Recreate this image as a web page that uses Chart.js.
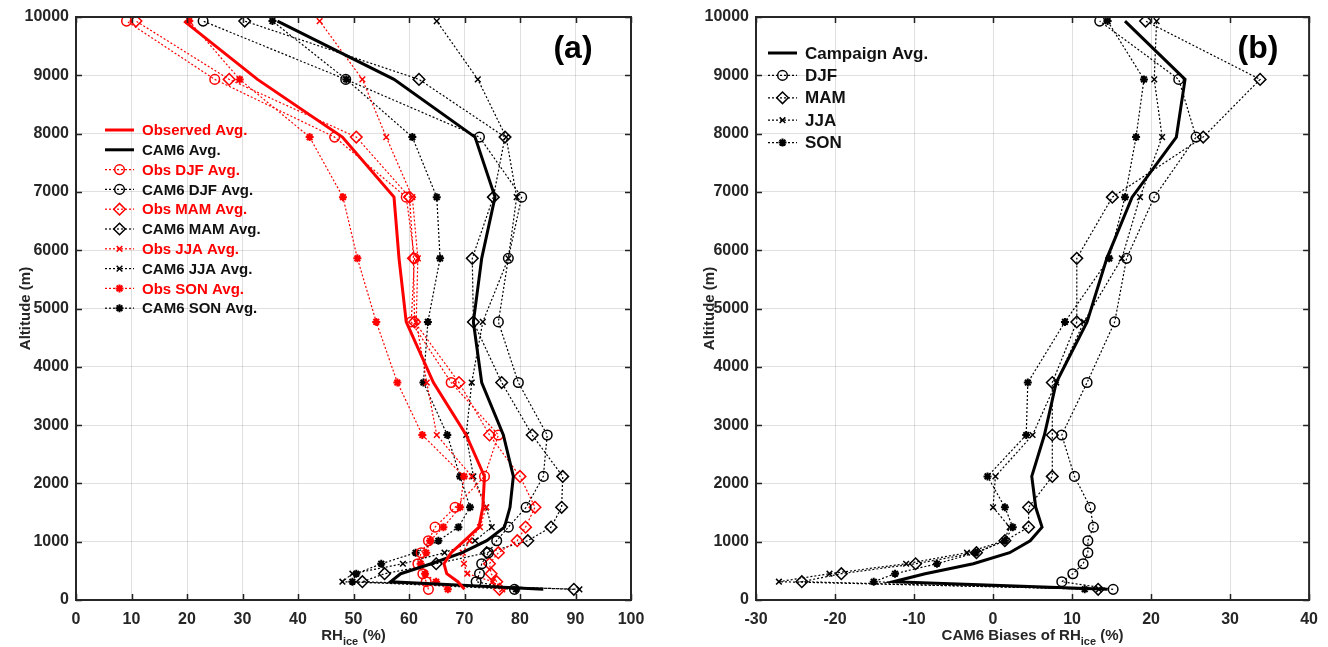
<!DOCTYPE html>
<html><head><meta charset="utf-8">
<script src="https://cdn.jsdelivr.net/npm/chart.js@4/dist/chart.umd.min.js"></script>
<style>body{margin:0;background:#fff;width:1328px;height:647px;overflow:hidden}canvas{position:absolute;top:0}</style>
</head><body>
<canvas id="ca" width="664" height="647" style="left:0"></canvas>
<canvas id="cb" width="664" height="647" style="left:664px"></canvas>
<script>
// altitude levels (m), bottom -> top
const altitudes = [183, 314, 451, 622, 811, 1017, 1250, 1590, 2120, 2830, 3730, 4770, 5860, 6910, 7940, 8930, 9930];

// panel (a): RH_ice (%)
const obsAvg  = [70.0, 68.8, 66.8, 66.3, 67.6, 70.0, 72.6, 73.3, 73.6, 70.3, 64.4, 59.5, 58.2, 57.3, 48.0, 32.7, 19.5];
const camAvg  = [84.2, 56.7, 58.5, 64.0, 69.6, 74.0, 77.2, 78.2, 78.8, 77.0, 73.1, 71.6, 73.1, 75.5, 71.9, 57.3, 36.3];
const obsDJF  = [63.5, 63.1, 62.5, 61.6, 62.2, 63.5, 64.7, 68.3, 73.6, 76.1, 67.6, 60.4, 61.0, 59.5, 46.6, 25.0, 9.1];
const camDJF  = [79.0, 72.1, 72.7, 73.1, 74.3, 75.8, 77.9, 81.1, 84.2, 84.9, 79.7, 76.1, 77.9, 80.3, 72.7, 48.6, 22.9];
const obsMAM  = [76.3, 75.8, 74.8, 74.5, 76.1, 79.5, 81.0, 82.7, 80.0, 74.5, 69.0, 61.0, 60.8, 60.1, 50.5, 27.6, 10.8];
const camMAM  = [89.7, 51.6, 55.6, 64.9, 74.0, 81.4, 85.6, 87.5, 87.7, 82.2, 76.7, 71.6, 71.4, 75.2, 77.3, 61.8, 30.4];
const obsJJA  = [76.8, 75.1, 70.5, 69.9, 69.7, 70.9, 72.8, 73.9, 71.3, 65.0, 63.2, 61.3, 61.6, 60.6, 55.9, 51.6, 43.9];
const camJJA  = [90.7, 48.0, 49.8, 58.9, 66.4, 71.9, 74.9, 73.9, 71.6, 70.3, 71.3, 73.3, 77.9, 79.4, 77.5, 72.4, 65.0];
const obsSON  = [67.0, 64.9, 62.9, 62.1, 63.1, 63.8, 66.2, 69.2, 69.9, 62.4, 57.9, 54.1, 50.7, 48.1, 42.1, 29.5, 20.4];
const camSON  = [79.3, 49.8, 50.5, 55.0, 61.2, 65.3, 68.9, 71.0, 69.2, 66.9, 62.6, 63.4, 65.6, 65.0, 60.6, 48.7, 35.4];

// panel (b): CAM6 biases of RH_ice (%)
const biasAvg = [14.5, -12.6, -8.6, -2.5, 2.1, 4.7, 6.2, 5.4, 4.9, 6.5, 8.0, 11.9, 14.4, 17.6, 23.2, 24.3, 16.7];
const biasDJF = [15.2, 8.7, 10.1, 11.4, 12.0, 12.0, 12.7, 12.3, 10.3, 8.7, 11.9, 15.4, 16.9, 20.4, 25.7, 23.5, 13.5];
const biasMAM = [13.3, -24.2, -19.2, -9.8, -2.1, 1.5, 4.5, 4.5, 7.5, 7.5, 7.5, 10.6, 10.6, 15.1, 26.6, 33.8, 19.3];
const biasJJA = [13.4, -27.1, -20.7, -11.0, -3.3, 1.4, 2.1, 0.0, 0.3, 5.0, 8.0, 11.5, 16.3, 18.6, 21.4, 20.4, 20.7];
const biasSON = [11.6, -15.1, -12.4, -7.1, -2.2, 1.5, 2.5, 1.5, -0.7, 4.2, 4.4, 9.1, 14.7, 16.7, 18.1, 19.1, 14.5];

// axis ranges / tick steps
const xRangeA = [0, 100], xStepA = 10;
const xRangeB = [-30, 40], xStepB = 10;
const yRange = [0, 10000], yStep = 1000;

const RED = '#ff0000', BLACK = '#000000';
const FONT = "'Liberation Sans', Arial, sans-serif";
const RAD = {circle: 4.8, rectRot: 5.8, crossRot: 4, star: 4};

function ds(label, vals, color, style, solid) {
  return {
    label,
    data: altitudes.map((a, i) => ({x: vals[i], y: a})),
    borderColor: color, backgroundColor: color,
    borderWidth: solid ? 3 : 1.2,
    borderDash: solid ? [] : [2, 2],
    pointStyle: style || 'circle',
    pointRadius: style ? RAD[style] : 0,
    pointHoverRadius: 0,
    pointBorderColor: color,
    pointBackgroundColor: 'rgba(0,0,0,0)',
    pointBorderWidth: style === 'star' ? 2 : 1.5,
    showLine: true, tension: 0,
    _style: style, _solid: solid
  };
}

function drawMarker(ctx, style, x, y, color, bw) {
  ctx.save();
  ctx.strokeStyle = color; ctx.fillStyle = 'rgba(0,0,0,0)';
  ctx.setLineDash([]);
  ctx.lineWidth = bw;
  Chart.helpers.drawPoint(ctx, {pointStyle: style, radius: RAD[style], rotation: 0, borderWidth: bw}, x, y);
  ctx.restore();
}

const decorPlugin = {
  id: 'decor',
  afterDraw(chart) {
    const o = chart.options.plugins.decor;
    const ctx = chart.ctx, ca = chart.chartArea;
    const xs = chart.scales.x, ys = chart.scales.y;
    ctx.save();
    // inward ticks
    ctx.strokeStyle = '#222'; ctx.lineWidth = 1.5; ctx.setLineDash([]);
    xs.ticks.forEach(t => {
      const px = Math.round(xs.getPixelForValue(t.value)) + 0.5;
      ctx.beginPath();
      ctx.moveTo(px, ca.bottom); ctx.lineTo(px, ca.bottom - 6);
      ctx.moveTo(px, ca.top); ctx.lineTo(px, ca.top + 6);
      ctx.stroke();
    });
    ys.ticks.forEach(t => {
      const py = Math.round(ys.getPixelForValue(t.value)) + 0.5;
      ctx.beginPath();
      ctx.moveTo(ca.left, py); ctx.lineTo(ca.left + 6, py);
      ctx.moveTo(ca.right, py); ctx.lineTo(ca.right - 6, py);
      ctx.stroke();
    });
    // frame
    ctx.strokeStyle = '#262626'; ctx.lineWidth = 2;
    ctx.strokeRect(ca.left, ca.top, ca.right - ca.left, ca.bottom - ca.top);

    // panel letter
    ctx.fillStyle = '#000';
    ctx.font = 'bold 32px ' + FONT;
    ctx.textAlign = 'center'; ctx.textBaseline = 'middle';
    ctx.fillText(o.letter, o.letterX, o.letterY);

    // y title
    ctx.save();
    ctx.translate(o.yTitleX, (ca.top + ca.bottom) / 2);
    ctx.rotate(-Math.PI / 2);
    ctx.font = 'bold 15px ' + FONT;
    ctx.fillStyle = '#262626';
    ctx.fillText('Altitude (m)', 0, 0);
    ctx.restore();

    // x title with subscript
    const parts = [[o.xTitle[0], 15, 0], [o.xTitle[1], 11, 5], [o.xTitle[2], 15, 0]];
    let total = 0;
    parts.forEach(p => { ctx.font = 'bold ' + p[1] + 'px ' + FONT; p.push(ctx.measureText(p[0]).width); total += p[3]; });
    let cx = (ca.left + ca.right) / 2 - total / 2;
    ctx.textAlign = 'left'; ctx.textBaseline = 'alphabetic'; ctx.fillStyle = '#262626';
    parts.forEach(p => { ctx.font = 'bold ' + p[1] + 'px ' + FONT; ctx.fillText(p[0], cx, o.xTitleY + p[2]); cx += p[3]; });

    // legend
    const L = o.legend;
    chart.data.datasets.forEach((d, i) => {
      const y = L.y + i * L.step;
      ctx.save();
      ctx.strokeStyle = d.borderColor;
      ctx.lineWidth = d._solid ? 3 : 1.2;
      ctx.setLineDash(d._solid ? [] : [2, 2]);
      ctx.beginPath(); ctx.moveTo(L.x, y); ctx.lineTo(L.x + L.len, y); ctx.stroke();
      ctx.restore();
      if (d._style) drawMarker(ctx, d._style, L.x + L.len / 2, y, d.borderColor, d._style === 'star' ? 2 : 1.5);
      ctx.font = 'bold ' + L.size + 'px ' + FONT;
      ctx.fillStyle = d.label.startsWith('Obs') ? RED : '#111';
      ctx.textAlign = 'left'; ctx.textBaseline = 'middle';
      ctx.fillText(d.label, L.x + L.len + 8, y + 1);
    });
    ctx.restore();
  }
};

function makeChart(id, datasets, xr, xstep, padRight, yW, decor) {
  const tickFont = {family: FONT, size: 16, weight: 'bold'};
  return new Chart(document.getElementById(id), {
    type: 'scatter',
    data: {datasets},
    plugins: [decorPlugin],
    options: {
      responsive: false, animation: false, devicePixelRatio: 1,
      layout: {padding: {left: 0, top: 17, right: padRight, bottom: 0}},
      plugins: {legend: {display: false}, tooltip: {enabled: false}, decor},
      scales: {
        x: {
          type: 'linear', min: xr[0], max: xr[1],
          afterFit(s) { s.height = 47; },
          ticks: {stepSize: xstep, padding: 10, color: '#262626', font: tickFont,
                  callback: v => String(v)},
          grid: {color: 'rgba(0,0,0,0.12)', lineWidth: 1, drawTicks: false},
          border: {display: false}
        },
        y: {
          type: 'linear', min: yRange[0], max: yRange[1],
          afterFit(s) { s.width = yW; },
          ticks: {stepSize: yStep, padding: 7, color: '#262626', font: tickFont,
                  callback: v => String(v)},
          grid: {color: 'rgba(0,0,0,0.12)', lineWidth: 1, drawTicks: false},
          border: {display: false}
        }
      }
    }
  });
}

makeChart('ca', [
  ds('Observed Avg.', obsAvg, RED, null, true),
  ds('CAM6 Avg.', camAvg, BLACK, null, true),
  ds('Obs DJF Avg.', obsDJF, RED, 'circle'),
  ds('CAM6 DJF Avg.', camDJF, BLACK, 'circle'),
  ds('Obs MAM Avg.', obsMAM, RED, 'rectRot'),
  ds('CAM6 MAM Avg.', camMAM, BLACK, 'rectRot'),
  ds('Obs JJA Avg.', obsJJA, RED, 'crossRot'),
  ds('CAM6 JJA Avg.', camJJA, BLACK, 'crossRot'),
  ds('Obs SON Avg.', obsSON, RED, 'star'),
  ds('CAM6 SON Avg.', camSON, BLACK, 'star')
], xRangeA, xStepA, 33, 76, {
  letter: '(a)', letterX: 573, letterY: 49, yTitleX: 26, xTitleY: 640,
  xTitle: ['RH', 'ice', ' (%)'],
  legend: {x: 105, y: 130, step: 19.8, len: 29, size: 15}
});

makeChart('cb', [
  ds('Campaign Avg.', biasAvg, BLACK, null, true),
  ds('DJF', biasDJF, BLACK, 'circle'),
  ds('MAM', biasMAM, BLACK, 'rectRot'),
  ds('JJA', biasJJA, BLACK, 'crossRot'),
  ds('SON', biasSON, BLACK, 'star')
], xRangeB, xStepB, 15, 92, {
  letter: '(b)', letterX: 594, letterY: 49, yTitleX: 46, xTitleY: 640,
  xTitle: ['CAM6 Biases of RH', 'ice', ' (%)'],
  legend: {x: 104, y: 53, step: 22.4, len: 29, size: 17}
});
</script>
</body></html>
